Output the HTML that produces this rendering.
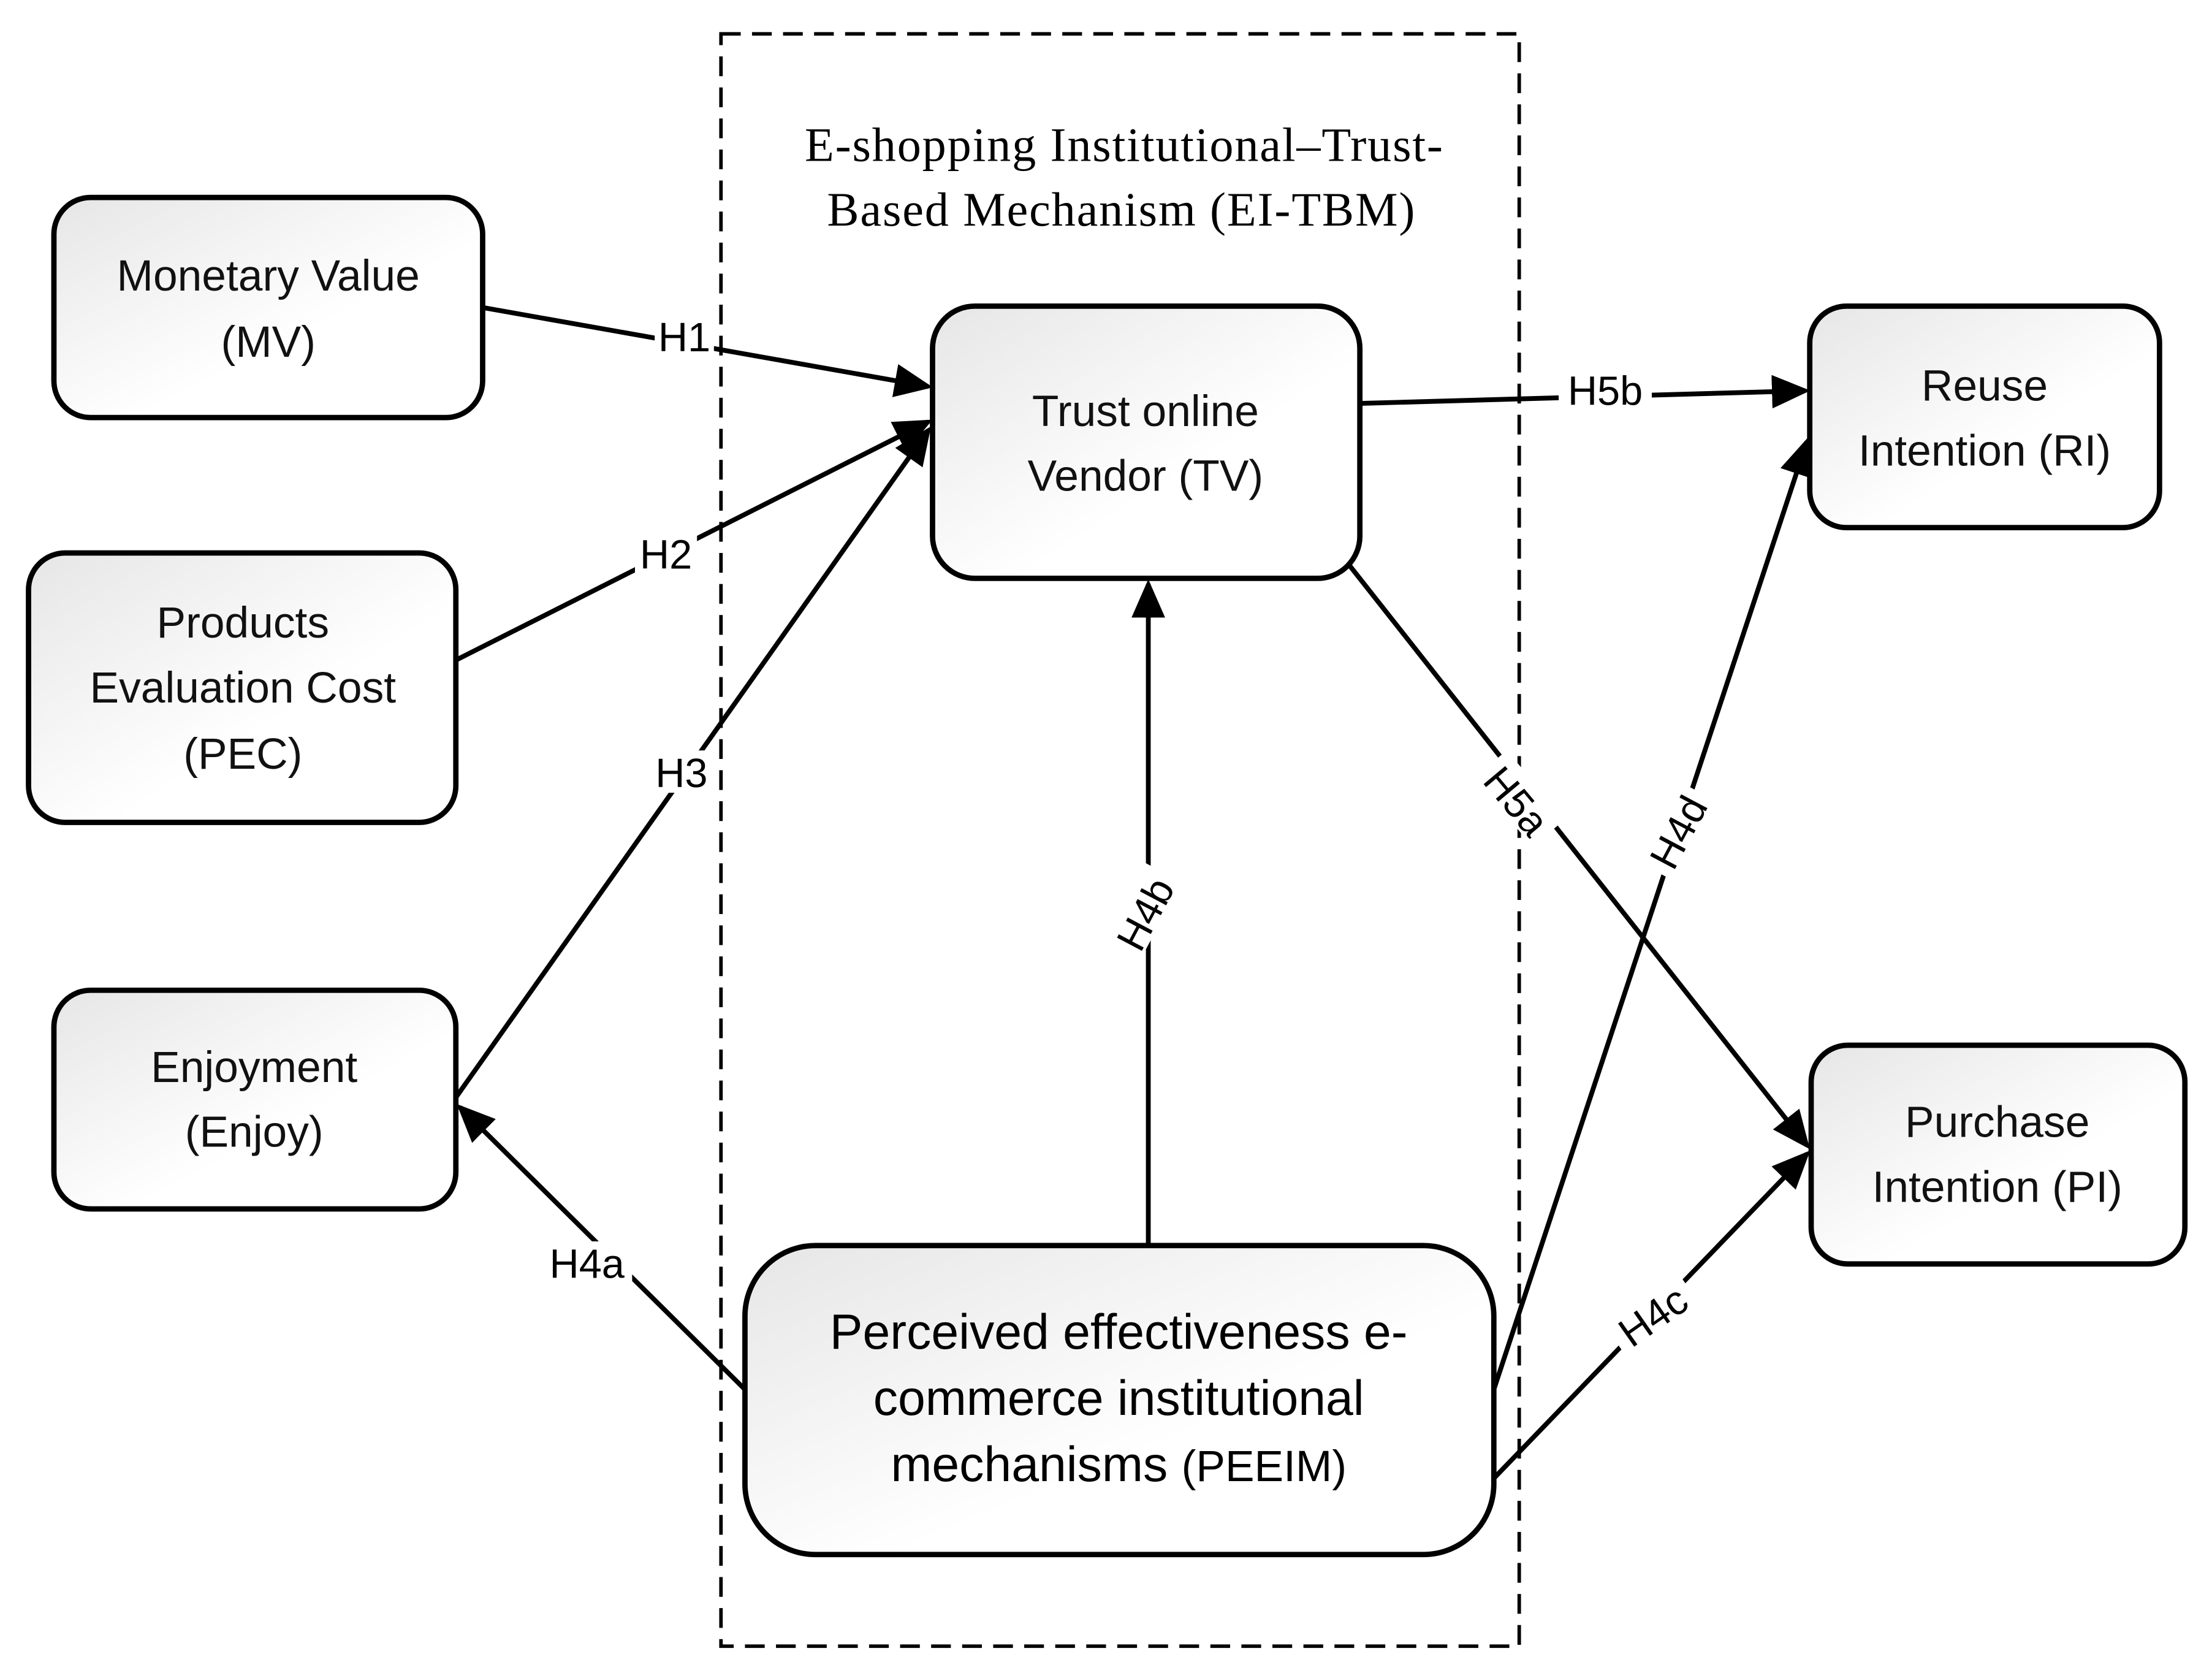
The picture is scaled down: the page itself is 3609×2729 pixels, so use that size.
<!DOCTYPE html>
<html><head><meta charset="utf-8"><style>html,body{margin:0;padding:0;background:#fff}svg{display:block}</style></head>
<body>
<svg width="3609" height="2729" viewBox="0 0 1568 1186" xmlns="http://www.w3.org/2000/svg">
<defs>
<linearGradient id="g" x1="0" y1="0" x2="1" y2="1"><stop offset="0" stop-color="#e6e6e6"/><stop offset="0.6" stop-color="#ffffff"/></linearGradient>
<marker id="a" markerWidth="8" markerHeight="8" refX="7" refY="4" orient="auto" markerUnits="strokeWidth"><path d="M0,0.5 L8,4 L0,7.5 z" fill="#000"/></marker>
</defs>
<rect x="511" y="24" width="566" height="1143" fill="none" stroke="#000" stroke-width="2.5" stroke-dasharray="14,8"/>
<g font-family="Liberation Serif, serif" font-size="34" text-anchor="middle" letter-spacing="0.8">
<text x="797" y="114">E-shopping Institutional–Trust-</text>
<text x="795" y="160">Based Mechanism (EI-TBM)</text>
</g>
<g stroke="#000" stroke-width="3.8" fill="url(#g)">
<rect x="38" y="140" width="304" height="156" rx="26"/>
<rect x="20" y="392" width="303" height="191" rx="26"/>
<rect x="38" y="702" width="285" height="155" rx="26"/>
<rect x="661" y="217" width="303" height="193" rx="30"/>
<rect x="528" y="883" width="531" height="219" rx="50"/>
<rect x="1283" y="217" width="248" height="157" rx="26"/>
<rect x="1284" y="741" width="265" height="155" rx="26"/>
</g>
<g stroke="#000" stroke-width="3.4" fill="none" marker-end="url(#a)">
<line x1="342" y1="218" x2="658" y2="274"/>
<line x1="323" y1="468" x2="658" y2="299"/>
<line x1="323" y1="778" x2="658" y2="305"/>
<line x1="528" y1="985" x2="326" y2="785"/>
<line x1="814" y1="883" x2="814" y2="414"/>
<line x1="1059" y1="1048" x2="1281" y2="818"/>
<line x1="1059" y1="985" x2="1281" y2="313"/>
<line x1="956" y1="400" x2="1281" y2="812"/>
<line x1="964" y1="286" x2="1280" y2="277"/>
</g>
<g font-family="Liberation Sans, sans-serif" font-size="29" text-anchor="middle">
<g fill="#fff"><rect x="464" y="224" width="42" height="30"/><rect x="450" y="378" width="44" height="30"/><rect x="461" y="532" width="44" height="30"/><rect x="384" y="880" width="64" height="30"/><rect x="1105" y="262" width="66" height="30"/></g>
<text x="485" y="249">H1</text>
<text x="472" y="403">H2</text>
<text x="483" y="558">H3</text>
<text x="416" y="906">H4a</text>
<text x="1138" y="287">H5b</text>
<g transform="translate(812,648) rotate(-62)"><rect x="-32" y="-18" width="64" height="30" fill="#fff"/><text x="0" y="10">H4b</text></g>
<g transform="translate(1172,933) rotate(-35)"><rect x="-32" y="-18" width="64" height="30" fill="#fff"/><text x="0" y="10">H4c</text></g>
<g transform="translate(1190,590) rotate(-62)"><rect x="-32" y="-18" width="64" height="30" fill="#fff"/><text x="0" y="10">H4d</text></g>
<g transform="translate(1075,568) rotate(50)"><rect x="-32" y="-18" width="64" height="30" fill="#fff"/><text x="0" y="10">H5a</text></g>
</g>
<g font-family="Liberation Sans, sans-serif" font-size="31" text-anchor="middle" fill="#111">
<text x="190" y="206">Monetary Value</text><text x="190" y="253">(MV)</text>
<text x="172" y="452">Products</text><text x="172" y="498">Evaluation Cost</text><text x="172" y="545">(PEC)</text>
<text x="180" y="767">Enjoyment</text><text x="180" y="813">(Enjoy)</text>
<text x="812" y="302">Trust online</text><text x="812" y="348">Vendor (TV)</text>
<text x="1407" y="284">Reuse</text><text x="1407" y="330">Intention (RI)</text>
<text x="1416" y="806">Purchase</text><text x="1416" y="852">Intention (PI)</text>
</g>
<g font-family="Liberation Sans, sans-serif" font-size="35" text-anchor="middle" fill="#000">
<text x="793" y="956">Perceived effectiveness e-</text>
<text x="793" y="1003">commerce institutional</text>
<text x="793" y="1050">mechanisms <tspan font-size="31">(PEEIM)</tspan></text>
</g>
</svg>
</body></html>
